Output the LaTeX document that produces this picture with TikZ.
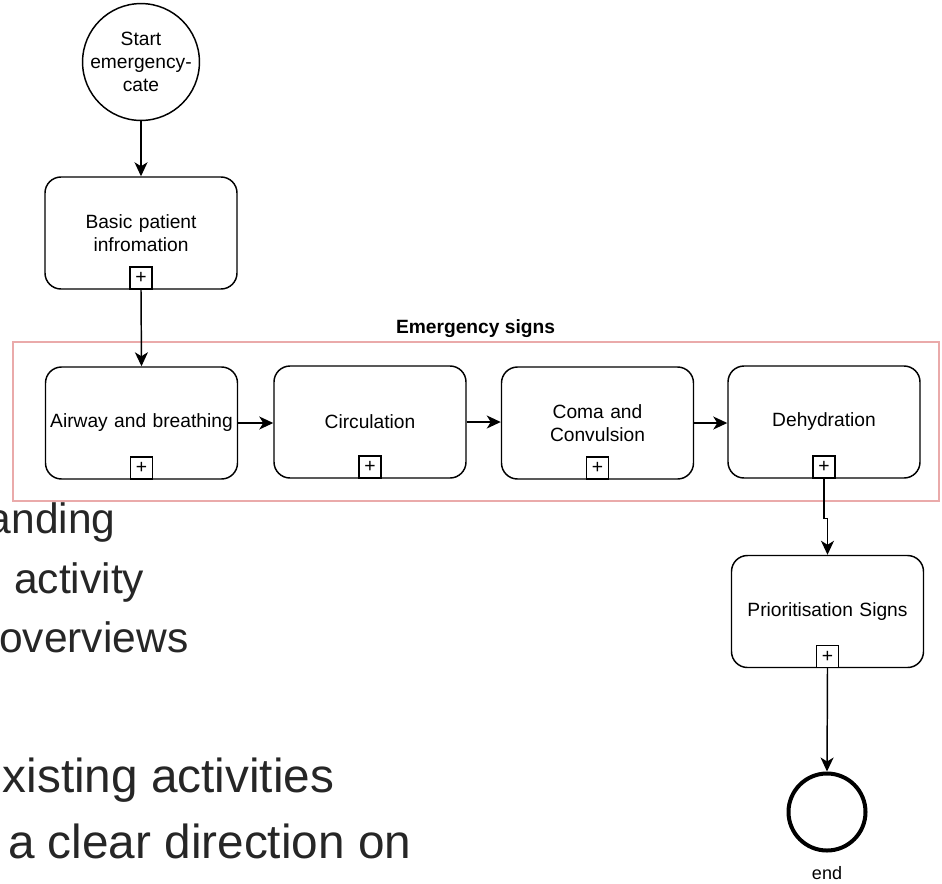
\documentclass[tikz,border=0pt]{standalone}
\usepackage{fontspec}
\setmainfont{Liberation Sans}
\usetikzlibrary{arrows.meta}
\definecolor{groupline}{RGB}{234,170,170}
\definecolor{slidetext}{RGB}{38,38,38}
\tikzstyle{task}=[draw, rounded corners=12pt, minimum width=144pt, minimum height=84pt, inner sep=1pt, text width=140pt, align=center, font=\fontsize{14.4}{17.3}\selectfont]
\tikzstyle{plus box}=[draw, fill=white, minimum size=16.5pt, inner sep=0pt, font=\fontsize{14.5}{14.5}\selectfont]
\tikzstyle{event}=[draw, circle, minimum size=84pt, inner sep=0pt, align=center, font=\fontsize{14.4}{17}\selectfont]
\tikzstyle{end event}=[draw, circle, line width=3pt, minimum size=57.75pt, inner sep=0pt]
\tikzstyle{slide}=[anchor=base west, inner sep=0pt, text=slidetext]

\begin{document}
\begin{tikzpicture}[>={Stealth[length=10.5pt,width=9.75pt,inset=3pt]}, x=.75pt, y=-.75pt, line width=1.1pt]
    \useasboundingbox (0,0) rectangle (942,883);

    % Slide text behind the diagram
    \begin{scope}
    \clip (0,0) rectangle (942,883);
    \draw (-13,533) node[slide, font=\fontsize{31.9}{38}\selectfont] (slide1) {anding};
    \draw (13.5,593) node[slide, font=\fontsize{31.9}{38}\selectfont] (slide2) {activity};
    \draw (-1.5,652) node[slide, font=\fontsize{31.9}{38}\selectfont] (slide3) {overviews};
    \draw (2,792) node[slide, font=\fontsize{35.8}{43}\selectfont] (slide4) {xisting activities};
    \draw (7.3,858) node[slide, font=\fontsize{35.8}{43}\selectfont] (slide5) {a clear direction on};
    \end{scope}

    % Group
    \draw[groupline, line width=.9pt] (13,342) rectangle (939,501);
    \draw (475.5,333) node[anchor=base, font=\bfseries\fontsize{14.4}{17}\selectfont] (signs) {Emergency signs};

    % Events
    \draw (141,62) node[event] (start) {Start\\emergency-\\cate};
    \draw (827,812) node[end event] (end) {};
    \draw (827,873) node[font=\fontsize{13.5}{16}\selectfont] (endtext) {end};

    % Tasks
    \draw (141,233) node[task] (basic) {Basic patient\\infromation};
    \draw (141.5,423) node[task] (airway) {Airway and breathing};
    \draw (370,422) node[task] (circ) {Circulation};
    \draw (597.5,423) node[task] (coma) {Coma and\\Convulsion};
    \draw (824,422) node[task] (dehyd) {Dehydration};
    \draw (827.5,611.5) node[task] (prior) {Prioritisation Signs};

    % Sub-process markers
    \foreach \t in {basic,airway,circ,coma,dehyd,prior}
        \node[plus box, anchor=south] (\t-plus) at (\t.south) {+};

    % Flow
    \draw[->] (start) -- (basic);
    \draw[->] (basic-plus.south) -- (airway.north);
    \draw[->] (airway.east) -- (airway.east -| circ.west);
    \draw[->] (circ.east) -- (circ.east -| coma.west);
    \draw[->] (coma.east) -- (coma.east -| dehyd.west);
    \draw[->] (dehyd-plus.south) -- ++(0,40) -| (prior.north);
    \draw[->] (prior-plus.south) -- (end.north);

\end{tikzpicture}
\end{document}
